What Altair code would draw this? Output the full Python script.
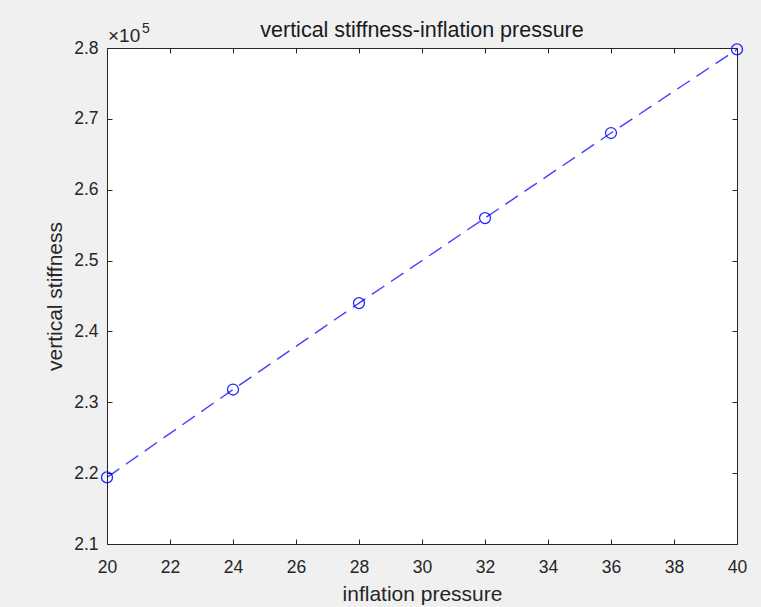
import altair as alt
import pandas as pd

pressure = [20, 24, 28, 32, 36, 40]
stiffness = [219400, 231800, 244000, 256000, 268000, 279800]
x_ticks = [20, 22, 24, 26, 28, 30, 32, 34, 36, 38, 40]
y_ticks = [210000, 220000, 230000, 240000, 250000, 260000, 270000, 280000]
title_text = ["vertical stiffness-inflation pressure"]
exp_base_text = ["×10"]
exp_sup_text = ["5"]

df = pd.DataFrame({"pressure": pressure, "stiffness": stiffness})

FONT = "Liberation Sans"
AX = "#262626"

xscale = alt.Scale(domain=[20, 40], nice=False, zero=False)
yscale = alt.Scale(domain=[210000, 280000], nice=False, zero=False)

common_axis = dict(grid=False, domain=False, tickSize=5, offset=-5, tickColor=AX,
                   tickWidth=1, labelColor=AX, labelFont=FONT, labelFontSize=17.5,
                   labelFlush=False, labelOverlap=False,
                   titleFont=FONT, titleFontSize=21, titleColor=AX, titleFontWeight="normal")

x_bottom = alt.X("pressure:Q", scale=xscale,
                 axis=alt.Axis(orient="bottom", values=x_ticks, title="inflation pressure",
                               labelPadding=14, titlePadding=8, **common_axis))
y_left = alt.Y("stiffness:Q", scale=yscale,
               axis=alt.Axis(orient="left", values=y_ticks, title="vertical stiffness",
                             labelExpr="format(datum.value / 100000, '.1f')",
                             labelPadding=9, titlePadding=8, **common_axis))

x_top = alt.X("pressure:Q", scale=xscale,
              axis=alt.Axis(orient="top", values=x_ticks, title=None, labels=False,
                            grid=False, domain=False, tickSize=5, offset=-5, tickColor=AX))
y_right = alt.Y("stiffness:Q", scale=yscale,
                axis=alt.Axis(orient="right", values=y_ticks, title=None, labels=False,
                              grid=False, domain=False, tickSize=5, offset=-5, tickColor=AX))

line = alt.Chart(df).mark_line(color="#0000ff", strokeWidth=1.4, strokeDash=[15, 8],
                               clip=False, opacity=0.75).encode(x=x_bottom, y=y_left)
points = alt.Chart(df).mark_point(shape="circle", filled=False, color="#0000ff", size=120,
                                  strokeWidth=1.3, clip=False, opacity=0.85).encode(x=x_top, y=y_right)

title_mark = alt.Chart(pd.DataFrame({"t": title_text})).mark_text(
    font=FONT, fontSize=21.5, color="#1a1a1a", align="center", baseline="alphabetic").encode(
    text="t:N", x=alt.value(315), y=alt.value(-11))
exp_base = alt.Chart(pd.DataFrame({"t": exp_base_text})).mark_text(
    font=FONT, fontSize=19, color=AX, align="left", baseline="alphabetic").encode(
    text="t:N", x=alt.value(1), y=alt.value(-6))
exp_sup = alt.Chart(pd.DataFrame({"t": exp_sup_text})).mark_text(
    font=FONT, fontSize=14, color=AX, align="left", baseline="alphabetic").encode(
    text="t:N", x=alt.value(35), y=alt.value(-15))

chart = alt.layer(line, points, title_mark, exp_base, exp_sup).resolve_scale(
    x="shared", y="shared").resolve_axis(x="independent", y="independent").properties(
    width=630, height=496,
    autosize=alt.AutoSizeParams(type="none"),
    padding={"left": 107, "top": 48, "right": 24, "bottom": 63},
    background="#f0f0f0",
).configure_view(fill="white", stroke=AX, strokeWidth=1)

chart.save("out.html", embed_options={"renderer": "svg", "actions": False})
